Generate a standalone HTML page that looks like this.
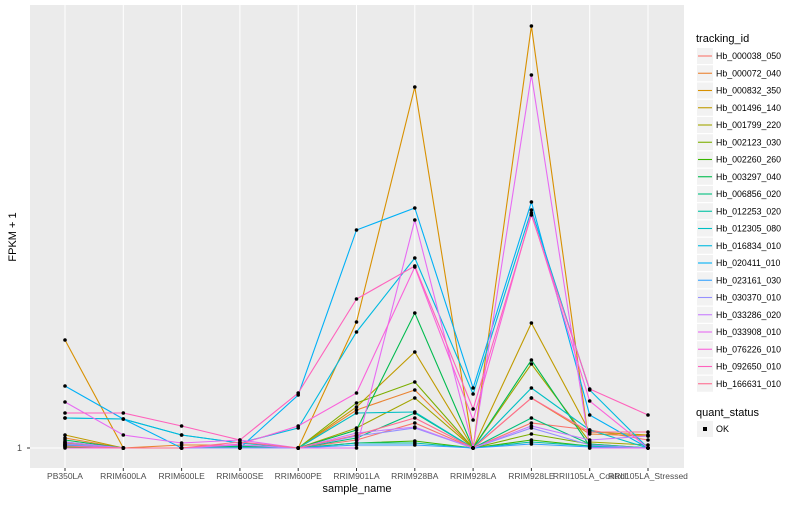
<!DOCTYPE html>
<html><head><meta charset="utf-8"><style>
body{margin:0;background:#fff;font-family:"Liberation Sans",sans-serif;}
svg text{font-family:"Liberation Sans",sans-serif;}
</style></head><body>
<svg id="chart" width="800" height="500">
<rect x="30" y="5" width="654" height="463" fill="#EBEBEB"/>
<g id="grid"></g><g id="lines"></g><g id="points"></g><g id="xaxis"></g>
<text x="22" y="451" font-size="9" text-anchor="end" fill="#4d4d4d">1</text>
<line x1="27" x2="30" y1="448" y2="448" stroke="#333"/>
<text transform="translate(16,237) rotate(-90)" font-size="11" text-anchor="middle">FPKM + 1</text>
<text x="357" y="492" font-size="11" text-anchor="middle">sample_name</text>
<text x="696" y="42" font-size="11">tracking_id</text>
<g id="legend"></g>
<text x="696" y="416" font-size="11">quant_status</text>
<rect x="697" y="421" width="16" height="16" fill="#F2F2F2"/>
<rect x="703" y="427" width="4" height="4" fill="#000"/>
<text x="716" y="432" font-size="9">OK</text>
</svg>
<script>
const categories=["PB350LA","RRIM600LA","RRIM600LE","RRIM600SE","RRIM600PE","RRIM901LA","RRIM928BA","RRIM928LA","RRIM928LE","RRII105LA_Control","RRII105LA_Stressed"];
const seriesNames=["Hb_000038_050","Hb_000072_040","Hb_000832_350","Hb_001496_140","Hb_001799_220","Hb_002123_030","Hb_002260_260","Hb_003297_040","Hb_006856_020","Hb_012253_020","Hb_012305_080","Hb_016834_010","Hb_020411_010","Hb_023161_030","Hb_030370_010","Hb_033286_020","Hb_033908_010","Hb_076226_010","Hb_092650_010","Hb_166631_010"];
const colors=["#F8766D","#EA8331","#D89000","#C09B00","#A3A500","#7CAE00","#39B600","#00BB4E","#00BF7D","#00C1A3","#00BFC4","#00BAE0","#00B0F6","#35A2FF","#9590FF","#C77CFF","#E76BF3","#FA62DB","#FF62BC","#FF6C91"];
const s0=[2.25,1,1,1.5,1,3,7.25,1,7.25,5.5,3];
const s1=[3.5,1,1.75,1.75,1,10.5,15.5,1,13.5,4.5,4];
const s2=[28,1,1,1,1,32.5,91.25,1,106.5,1,1];
const s3=[4.25,1,1,1.5,1,11.25,25,1,32.25,5,4.25];
const s4=[2,1,1,1,1,6,13.5,1,22,2.5,1.75];
const s5=[1.5,1,1,1,1,12.25,17.5,1,4.5,2,1];
const s6=[1.25,1,1,1.25,1,2.25,2.75,1,3,1.5,1];
const s7=[3,1,1,1.5,1,5.5,34.75,1,23,1.5,1];
const s8=[2.5,1,1,1,1,3.5,9.75,1,8.5,2,1];
const s9=[1.75,1,1,1.25,1,2.25,2.25,1,2.5,1.5,1];
const s10=[8.5,8.25,4.25,2.25,1,9.75,10,1,16,5.5,1];
const s11=[8.5,8.25,4.25,2.25,6,30,48.5,14.5,60.5,15.5,1];
const s12=[16.5,8.25,1,1,14.25,55.5,61,16,62.5,9.25,1];
const s13=[1.75,1,1,1,1,1.75,1.75,1,2,1.25,1];
const s14=[2,1,1,1,1,4,6,1,6,1.75,1];
const s15=[2.5,1,1,1.75,1,4.75,6.25,1,6.5,3,4];
const s16=[12.5,4.25,2.25,3,1,1,58,1,94.25,1,1];
const s17=[1,1,1,2,6.5,14.75,46.25,8,59.75,12.75,1];
const s18=[9.75,9.75,6.5,3,14.75,38.25,46.5,10.75,59.25,15.75,9.25];
const s19=[1.5,1,1,2.5,1,4.25,8.5,1,13.5,5,5];
const series=[s0,s1,s2,s3,s4,s5,s6,s7,s8,s9,s10,s11,s12,s13,s14,s15,s16,s17,s18,s19];
const NS="http://www.w3.org/2000/svg";
function xScale(i){return 65+i*58.3;}
function yScale(v){return 448-(v-1)*4;}
function mk(tag,attrs,parent){const e=document.createElementNS(NS,tag);for(const k in attrs)e.setAttribute(k,attrs[k]);parent.appendChild(e);return e;}
const grid=document.getElementById('grid'),lines=document.getElementById('lines'),pts=document.getElementById('points'),xa=document.getElementById('xaxis'),leg=document.getElementById('legend');
let hl=mk('line',{x1:30,x2:684,y1:yScale(1),y2:yScale(1),stroke:'#fff','stroke-width':1},grid);


categories.forEach((c,i)=>{
 const g=mk('line',{x1:xScale(i),x2:xScale(i),y1:5,y2:468,stroke:'#fff','stroke-width':1},grid);
 
 
 const t=mk('line',{x1:xScale(i),x2:xScale(i),y1:468,y2:471,stroke:'#333'},xa);
 
 
 const tx=mk('text',{x:xScale(i),y:479,'font-size':8.5,'text-anchor':'middle',fill:'#4d4d4d'},xa);
 tx.textContent=c;
 
 
});
series.forEach((s,k)=>{
 const p=mk('polyline',{points:s.map((v,i)=>xScale(i)+','+yScale(v)).join(' '),fill:'none',stroke:colors[k],'stroke-width':1.1},lines);
 
 
 s.forEach((v,i)=>{
  const c=mk('circle',{cx:xScale(i),cy:yScale(v),r:1.8,fill:'#000'},pts);
  
  
 });
 const y=48+k*17.25;
 const kb=mk('rect',{x:697,y:y,width:16,height:16,fill:'#F2F2F2'},leg);
 
 
 const kl=mk('line',{x1:698,x2:712,y1:y+8,y2:y+8,stroke:colors[k],'stroke-width':1.1},leg);
 
 
 const lt=mk('text',{x:716,y:y+11,'font-size':8.8},leg);
 lt.textContent=seriesNames[k];
 
 
});
</script>
</body></html>
